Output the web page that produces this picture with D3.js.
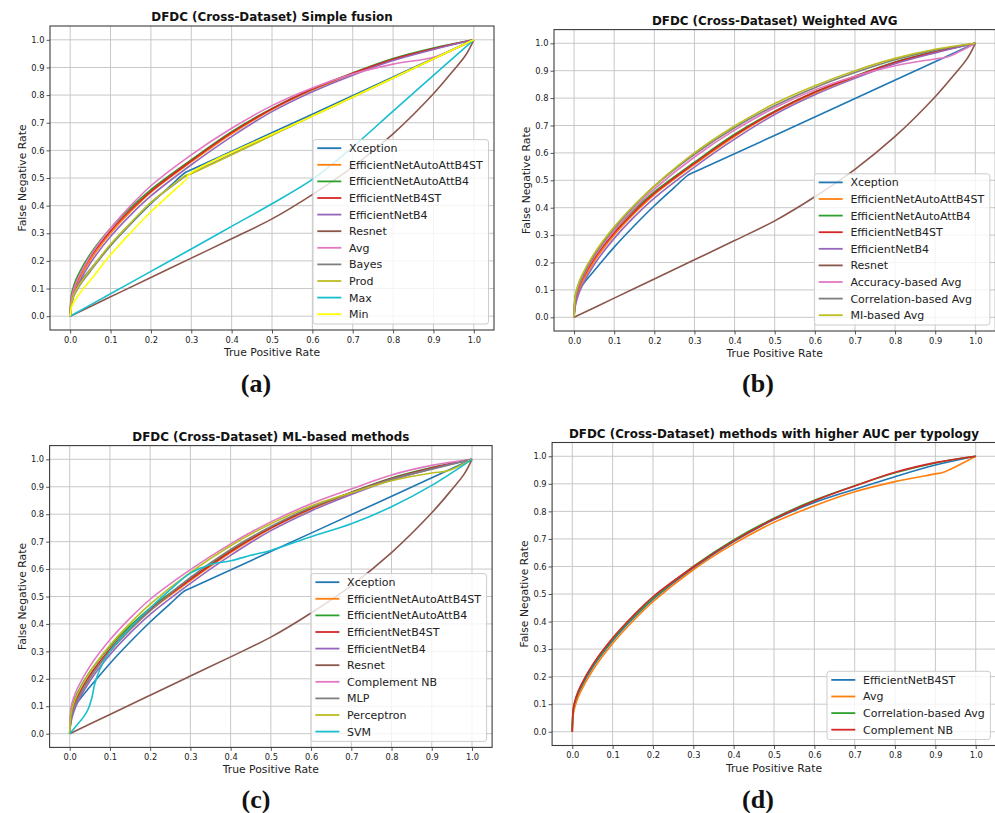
<!DOCTYPE html>
<html>
<head>
<meta charset="utf-8">
<script src="https://cdn.jsdelivr.net/npm/d3@7"></script>
<style>
  html, body { margin: 0; padding: 0; background: #fff; }
  svg { display: block; }
</style>
</head>
<body>
<svg id="fig" width="995" height="813"></svg>
<script>
// ---------- axis ticks and texts ----------
const tickValues = [0.0, 0.1, 0.2, 0.3, 0.4, 0.5, 0.6, 0.7, 0.8, 0.9, 1.0];
const titles = [
  "DFDC (Cross-Dataset) Simple fusion",
  "DFDC (Cross-Dataset) Weighted AVG",
  "DFDC (Cross-Dataset) ML-based methods",
  "DFDC (Cross-Dataset) methods with higher AUC per typology"
];
const tags = ["(a)", "(b)", "(c)", "(d)"];
const xAxisTitle = "True Positive Rate";
const yAxisTitle = "False Negative Rate";

// ---------- single models: [x, y] points of each curve ----------
const xception = [[0,0],[0.003,0.05],[0.008,0.085],[0.015,0.105],[0.03,0.135],[0.05,0.17],[0.1,0.256],[0.15,0.334],[0.2,0.407],[0.25,0.474],[0.285,0.52],[0.3,0.53],[0.6,0.731],[1,1]];
const autoAttB4ST = [[0,0],[0.003,0.051],[0.01,0.09],[0.02,0.126],[0.05,0.2035],[0.1,0.3],[0.15,0.379],[0.2,0.448],[0.3,0.558],[0.4,0.66],[0.5,0.748],[0.6,0.818],[0.7,0.876],[0.8,0.928],[0.9,0.967],[1,1]];
const autoAttB4 = [[0,0],[0.003,0.077],[0.01,0.1155],[0.02,0.1505],[0.05,0.2255],[0.1,0.318],[0.15,0.393],[0.2,0.458],[0.3,0.566],[0.4,0.668],[0.5,0.752],[0.6,0.822],[0.7,0.88],[0.8,0.932],[0.9,0.97],[1,1]];
const b4ST = [[0,0],[0.003,0.063],[0.01,0.102],[0.02,0.137],[0.05,0.2135],[0.1,0.308],[0.15,0.385],[0.2,0.452],[0.3,0.562],[0.4,0.664],[0.5,0.75],[0.6,0.822],[0.7,0.879],[0.8,0.93],[0.9,0.968],[1,1]];
const b4 = [[0,0],[0.003,0.04],[0.01,0.079],[0.02,0.115],[0.05,0.192],[0.1,0.288],[0.15,0.3665],[0.2,0.435],[0.3,0.548],[0.4,0.65],[0.5,0.74],[0.6,0.812],[0.7,0.872],[0.8,0.925],[0.9,0.965],[1,1]];
const resnet = [[0,0],[0.1,0.07],[0.2,0.14],[0.3,0.21],[0.4,0.28],[0.5,0.352],[0.6,0.44],[0.7,0.54],[0.8,0.66],[0.9,0.805],[0.95,0.89],[0.98,0.945],[1,1]];

// ---------- simple fusion ----------
const avgFusion = [[0,0],[0.003,0.063],[0.01,0.103],[0.02,0.139],[0.05,0.2185],[0.1,0.318],[0.15,0.4],[0.2,0.472],[0.3,0.584],[0.4,0.68],[0.5,0.762],[0.6,0.826],[0.7,0.876],[0.8,0.912],[0.907,0.94],[1,1]];
const bayesFusion = [[0,0],[0.003,0.04],[0.008,0.07],[0.015,0.09],[0.03,0.125],[0.05,0.163],[0.1,0.255],[0.15,0.335],[0.2,0.41],[0.25,0.468],[0.287,0.508],[0.293,0.512],[0.6,0.724],[1,1]];
const prodFusion = [[0,0],[0.003,0.045],[0.008,0.073],[0.015,0.095],[0.03,0.13],[0.05,0.168],[0.1,0.26],[0.15,0.338],[0.2,0.412],[0.25,0.47],[0.287,0.51],[0.293,0.512],[0.6,0.724],[1,1]];
const maxFusion = [[0,0],[0.1,0.081],[0.2,0.162],[0.3,0.243],[0.4,0.325],[0.5,0.407],[0.6,0.495],[0.7,0.612],[0.8,0.742],[0.9,0.871],[1,1]];
const minFusion = [[0,0],[0.003,0.03],[0.008,0.048],[0.015,0.065],[0.03,0.095],[0.05,0.13],[0.1,0.222],[0.15,0.302],[0.2,0.378],[0.25,0.445],[0.287,0.495],[0.293,0.512],[0.6,0.724],[1,1]];

// ---------- weighted averages ----------
const accuracyAvg = [[0,0],[0.003,0.067],[0.01,0.1065],[0.02,0.1425],[0.05,0.2205],[0.1,0.318],[0.15,0.398],[0.2,0.468],[0.3,0.585],[0.4,0.683],[0.5,0.765],[0.6,0.83],[0.7,0.88],[0.8,0.918],[0.9,0.943],[0.93,0.95],[1,1]];
const correlationAvg = [[0,0],[0.003,0.071],[0.01,0.1107],[0.02,0.147],[0.05,0.226],[0.1,0.325],[0.15,0.4065],[0.2,0.478],[0.3,0.595],[0.4,0.692],[0.5,0.772],[0.6,0.838],[0.7,0.893],[0.8,0.94],[0.9,0.975],[1,1]];
const miAvg = [[0,0],[0.003,0.079],[0.01,0.1185],[0.02,0.1545],[0.05,0.2325],[0.1,0.33],[0.15,0.41],[0.2,0.48],[0.3,0.6],[0.4,0.698],[0.5,0.78],[0.6,0.845],[0.7,0.9],[0.8,0.945],[0.9,0.978],[1,1]];

// ---------- ML-based combiners ----------
const complementNB = [[0,0],[0.003,0.093],[0.01,0.132],[0.02,0.168],[0.05,0.2455],[0.1,0.342],[0.15,0.421],[0.2,0.49],[0.3,0.598],[0.4,0.692],[0.5,0.772],[0.6,0.838],[0.7,0.892],[0.8,0.943],[0.9,0.978],[1,1]];
const mlp = [[0,0],[0.003,0.051],[0.01,0.09],[0.02,0.126],[0.05,0.2035],[0.1,0.3],[0.15,0.379],[0.2,0.448],[0.3,0.57],[0.4,0.672],[0.5,0.755],[0.6,0.825],[0.7,0.878],[0.8,0.928],[0.9,0.964],[1,1]];
const perceptron = [[0,0],[0.003,0.071],[0.01,0.1105],[0.02,0.1465],[0.05,0.2245],[0.1,0.322],[0.15,0.402],[0.2,0.472],[0.3,0.588],[0.4,0.685],[0.5,0.765],[0.6,0.83],[0.7,0.878],[0.8,0.922],[0.9,0.95],[0.94,0.958],[1,1]];
const svm = [[0,0],[0.02,0.035],[0.035,0.062],[0.046,0.09],[0.055,0.13],[0.062,0.18],[0.075,0.235],[0.1,0.3],[0.15,0.385],[0.2,0.458],[0.25,0.525],[0.3,0.585],[0.35,0.617],[0.4,0.63],[0.45,0.65],[0.5,0.668],[0.6,0.718],[0.7,0.765],[0.8,0.827],[0.9,0.905],[1,1]];

// ---------- best of each typology ----------
const bestB4ST = [[0,0],[0.003,0.079],[0.01,0.1185],[0.02,0.1545],[0.05,0.2325],[0.1,0.33],[0.15,0.41],[0.2,0.48],[0.3,0.594],[0.4,0.69],[0.5,0.77],[0.6,0.832],[0.7,0.88],[0.8,0.926],[0.9,0.968],[1,1]];
const bestAvg = [[0,0],[0.003,0.0674],[0.01,0.1067],[0.02,0.1429],[0.05,0.2215],[0.1,0.32],[0.15,0.401],[0.2,0.472],[0.3,0.588],[0.4,0.682],[0.5,0.76],[0.6,0.82],[0.7,0.871],[0.8,0.908],[0.9,0.936],[0.92,0.942],[1,1]];
const bestCorrelation = [[0,0],[0.003,0.0863],[0.01,0.1254],[0.02,0.1613],[0.05,0.239],[0.1,0.336],[0.15,0.4155],[0.2,0.485],[0.3,0.6],[0.4,0.696],[0.5,0.775],[0.6,0.84],[0.7,0.893],[0.8,0.94],[0.9,0.976],[1,1]];
const bestComplementNB = [[0,0],[0.003,0.0893],[0.01,0.1285],[0.02,0.1645],[0.05,0.2425],[0.1,0.34],[0.15,0.42],[0.2,0.49],[0.3,0.598],[0.4,0.693],[0.5,0.772],[0.6,0.838],[0.7,0.892],[0.8,0.942],[0.9,0.977],[1,1]];

// ---------- legend names per panel ----------
const namesA = ["Xception","EfficientNetAutoAttB4ST","EfficientNetAutoAttB4","EfficientNetB4ST","EfficientNetB4","Resnet","Avg","Bayes","Prod","Max","Min"];
const namesB = ["Xception","EfficientNetAutoAttB4ST","EfficientNetAutoAttB4","EfficientNetB4ST","EfficientNetB4","Resnet","Accuracy-based Avg","Correlation-based Avg","MI-based Avg"];
const namesC = ["Xception","EfficientNetAutoAttB4ST","EfficientNetAutoAttB4","EfficientNetB4ST","EfficientNetB4","Resnet","Complement NB","MLP","Perceptron","SVM"];
const namesD = ["EfficientNetB4ST","Avg","Correlation-based Avg","Complement NB"];

const curvesA = [xception, autoAttB4ST, autoAttB4, b4ST, b4, resnet, avgFusion, bayesFusion, prodFusion, maxFusion, minFusion];
const curvesB = [xception, autoAttB4ST, autoAttB4, b4ST, b4, resnet, accuracyAvg, correlationAvg, miAvg];
const curvesC = [xception, autoAttB4ST, autoAttB4, b4ST, b4, resnet, complementNB, mlp, perceptron, svm];
const curvesD = [bestB4ST, bestAvg, bestCorrelation, bestComplementNB];

// ---------- styling ----------
const palette = ["#1f77b4","#ff7f0e","#2ca02c","#d62728","#9467bd","#8c564b","#e377c2","#7f7f7f","#bcbd22","#17becf","#ffff00"];
const FONT = "DejaVu Sans, Liberation Sans, sans-serif";

const frames = [
  { left: 50,    right: 494,   top: 26,    bottom: 330,   tagX: 256, tagY: 391.5 },
  { left: 554,   right: 995.4, top: 29.6,  bottom: 331,   tagX: 758, tagY: 391.5 },
  { left: 49.6,  right: 492.1, top: 445.6, bottom: 747.4, tagX: 256, tagY: 808 },
  { left: 552.1, right: 995.9, top: 442.5, bottom: 745.5, tagX: 758, tagY: 808 }
];

const panels = [
  { names: namesA, curves: curvesA },
  { names: namesB, curves: curvesB },
  { names: namesC, curves: curvesC },
  { names: namesD, curves: curvesD }
];

const svg = d3.select("#fig");
svg.append("rect").attr("width", 995).attr("height", 813).attr("fill", "#fff");

function drawPanel(i) {
  const f = frames[i];
  const p = panels[i];
  const g = svg.append("g");

  const x = d3.scaleLinear().domain([-0.05, 1.05]).range([f.left, f.right]);
  const y = d3.scaleLinear().domain([-0.05, 1.05]).range([f.bottom, f.top]);

  // grid
  const grid = g.append("g").attr("stroke", "#c8c8c8").attr("stroke-width", 1);
  grid.selectAll("line.v").data(tickValues).join("line")
    .attr("x1", d => x(d)).attr("x2", d => x(d))
    .attr("y1", f.top).attr("y2", f.bottom);
  grid.selectAll("line.h").data(tickValues).join("line")
    .attr("y1", d => y(d)).attr("y2", d => y(d))
    .attr("x1", f.left).attr("x2", f.right);

  // curves
  const line = d3.line().x(d => x(d[0])).y(d => y(d[1])).curve(d3.curveCatmullRom.alpha(0.5));
  g.append("g").selectAll("path").data(p.curves).join("path")
    .attr("d", line)
    .attr("fill", "none")
    .attr("stroke", (d, k) => palette[k])
    .attr("stroke-width", 1.6)
    .attr("stroke-linejoin", "round");

  // axes
  const fmt = d3.format(".1f");
  const xAxis = g.append("g").attr("transform", `translate(0,${f.bottom})`)
    .call(d3.axisBottom(x).tickValues(tickValues).tickFormat(fmt).tickSize(3.5).tickPadding(3.3));
  const yAxis = g.append("g").attr("transform", `translate(${f.left},0)`)
    .call(d3.axisLeft(y).tickValues(tickValues).tickFormat(fmt).tickSize(3.5).tickPadding(2));
  [xAxis, yAxis].forEach(a => {
    a.select(".domain").remove();
    a.selectAll(".tick line").attr("stroke", "#444").attr("stroke-width", 0.9);
    a.selectAll(".tick text").attr("fill", "#222").style("font-family", FONT).style("font-size", "8.3px");
  });

  // frame
  g.append("rect")
    .attr("x", f.left).attr("y", f.top)
    .attr("width", f.right - f.left).attr("height", f.bottom - f.top)
    .attr("fill", "none").attr("stroke", "#3c3c3c").attr("stroke-width", 1.1);

  // title and axis titles
  g.append("text")
    .attr("x", (f.left + f.right) / 2).attr("y", f.top - 5)
    .attr("text-anchor", "middle")
    .style("font-family", FONT).style("font-size", "11.9px").style("font-weight", "bold")
    .attr("fill", "#111")
    .text(titles[i]);
  g.append("text")
    .attr("x", (f.left + f.right) / 2).attr("y", f.bottom + 26)
    .attr("text-anchor", "middle")
    .style("font-family", FONT).style("font-size", "10.8px")
    .attr("fill", "#222")
    .text(xAxisTitle);
  g.append("text")
    .attr("transform", `translate(${f.left - 24},${(f.top + f.bottom) / 2}) rotate(-90)`)
    .attr("text-anchor", "middle")
    .style("font-family", FONT).style("font-size", "10.8px")
    .attr("fill", "#222")
    .text(yAxisTitle);

  // legend, anchored to the lower right corner
  const sp = 16.6;
  const lg = g.append("g");
  const box = lg.append("rect")
    .attr("fill", "#fff").attr("fill-opacity", 0.8)
    .attr("stroke", "#cccccc").attr("stroke-width", 1)
    .attr("rx", 2.5).attr("ry", 2.5);
  const rows = lg.selectAll("g.row").data(p.names).join("g")
    .attr("transform", (d, k) => `translate(0,${8.6 + k * sp})`);
  rows.append("line")
    .attr("x1", 4.3).attr("x2", 28.3).attr("y1", 0).attr("y2", 0)
    .attr("stroke", (d, k) => palette[k]).attr("stroke-width", 1.8);
  const labels = rows.append("text")
    .attr("x", 36).attr("y", 0).attr("dy", "0.36em")
    .style("font-family", FONT).style("font-size", "11px")
    .attr("fill", "#222")
    .text(d => d);
  let maxW = 0;
  labels.each(function () { maxW = Math.max(maxW, this.getComputedTextLength()); });
  const w = 36 + maxW + 5.7;
  const h = (p.names.length - 1) * sp + 18.4;
  box.attr("width", w).attr("height", h);
  lg.attr("transform", `translate(${f.right - 5.5 - w},${f.bottom - 6 - h})`);

  // panel tag
  svg.append("text")
    .attr("x", f.tagX).attr("y", f.tagY)
    .attr("text-anchor", "middle")
    .style("font-family", "Liberation Serif, DejaVu Serif, serif")
    .style("font-size", "26px").style("font-weight", "bold")
    .attr("fill", "#111")
    .text(tags[i]);
}

for (let i = 0; i < 4; i++) drawPanel(i);
</script>
</body>
</html>
